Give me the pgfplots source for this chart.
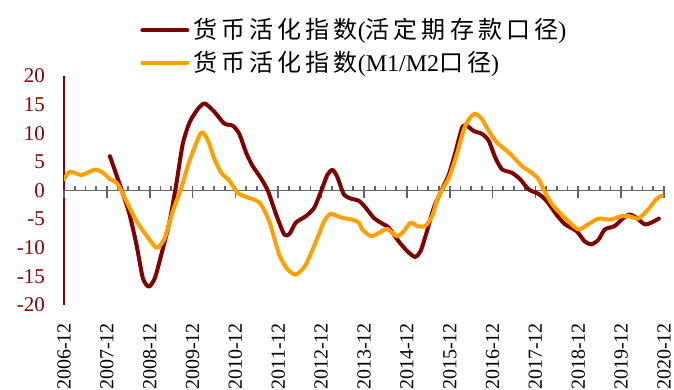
\documentclass[border=0pt]{standalone}
\usepackage{pgfplots}
\pgfplotsset{compat=1.18}
\usepackage{fontspec}
\setmainfont{Liberation Serif}
\newfontfamily\cjk{Noto Sans CJK SC}[LetterSpace=17]

\definecolor{seriesred}{RGB}{128,0,0}
\definecolor{seriesorange}{RGB}{255,160,0}
\definecolor{axisred}{RGB}{139,0,0}
\definecolor{tickgray}{RGB}{100,100,100}

% Deposit-based activation index (years after 2006-12, percent)
\pgfplotstableread{
t v
1.07 6.0
1.22 2.8
1.38 -0.7
1.53 -4.2
1.69 -9.4
1.84 -15.3
1.98 -16.8
2.12 -15.3
2.27 -11.2
2.465 -5.4
2.62 1.1
2.77 8.1
2.93 11.9
3.12 14.2
3.28 15.2
3.49 13.9
3.74 11.7
3.94 11.3
4.09 9.9
4.25 6.6
4.40 4.3
4.60 2.1
4.76 -0.1
4.95 -4.2
5.14 -7.7
5.26 -7.6
5.41 -5.6
5.64 -4.5
5.84 -3.0
6.00 -0.1
6.15 2.8
6.27 3.6
6.38 2.3
6.53 -0.7
6.69 -1.4
6.88 -1.8
7.04 -3.0
7.23 -4.8
7.43 -5.8
7.58 -6.5
7.81 -8.9
8.01 -10.6
8.19 -11.6
8.32 -10.6
8.47 -7.1
8.63 -3.0
8.82 0.2
8.98 2.8
9.13 6.6
9.29 11.0
9.40 11.3
9.56 10.4
9.75 9.9
9.91 8.7
10.06 5.8
10.22 3.7
10.45 3.1
10.64 2.0
10.84 0.2
11.07 -0.6
11.26 -1.8
11.49 -4.2
11.69 -5.9
11.96 -7.1
12.15 -8.9
12.31 -9.4
12.47 -8.6
12.62 -6.8
12.85 -6.2
13.05 -4.8
13.20 -4.2
13.36 -4.8
13.55 -5.9
13.71 -5.6
13.88 -4.9
}\depositdata

% M1/M2-based activation index
\pgfplotstableread{
t v
0 2.0
0.14 3.3
0.41 2.7
0.72 3.65
0.91 3.1
1.07 2.0
1.22 1.4
1.34 -0.1
1.65 -4.8
1.88 -7.4
2.16 -10.0
2.35 -8.3
2.54 -3.6
2.74 0.5
2.93 5.2
3.20 10.1
3.36 8.7
3.51 5.5
3.67 3.1
3.86 1.7
4.05 -0.4
4.24 -1.1
4.56 -2.1
4.79 -5.4
5.02 -11.2
5.22 -13.8
5.41 -14.7
5.64 -13.0
5.88 -8.9
6.07 -5.4
6.22 -4.1
6.50 -4.8
6.73 -5.1
6.88 -5.6
6.96 -6.8
7.16 -8.0
7.35 -7.4
7.54 -6.7
7.77 -8.0
7.93 -7.1
8.09 -5.6
8.24 -6.2
8.43 -6.2
8.59 -4.5
8.74 -1.0
8.98 2.2
9.17 6.4
9.33 10.7
9.48 12.8
9.60 13.4
9.75 12.5
9.91 10.4
10.10 8.4
10.41 6.4
10.68 4.3
10.91 3.1
11.07 2.0
11.23 -0.4
11.42 -2.7
11.69 -4.8
12.00 -6.8
12.23 -5.9
12.47 -4.9
12.74 -5.1
13.00 -4.5
13.20 -4.5
13.40 -4.9
13.63 -3.3
13.82 -1.5
13.95 -0.9
}\monetarydata

\begin{document}
\begin{tikzpicture}
\path[use as bounding box] (0,0) rectangle (337pt,195pt);

% data axis: zero line with quarterly ticks, red value axis on the left
\begin{axis}[
  scale only axis, width=300pt, height=114.5pt,
  at={(32pt,42.5pt)}, anchor=south west,
  xmin=0, xmax=14, ymin=-20, ymax=20,
  axis x line=middle, axis y line=left,
  hide obscured x ticks=false, hide obscured y ticks=false,
  x axis line style={draw=tickgray, line width=0.8pt, -},
  y axis line style={draw=axisred, line width=1.1pt, -},
  xtick={0,...,14}, xticklabels={}, minor x tick num=3,
  tick align=inside, major tick length=2pt, minor tick length=2pt,
  xtick style={draw=tickgray, line width=0.8pt},
  extra x ticks={0,...,14}, extra x tick labels={},
  extra x tick style={tick align=outside, major tick length=3.85pt},
  ytick={-20,-15,...,20}, ytick style={draw=none},
  /pgf/number format/assume math mode=true,
  yticklabel style={text=axisred, font=\fontsize{10.5}{12}\selectfont, xshift=-6pt},
  legend style={at={(0.1267,1.27)}, anchor=north west, draw=none, fill=none,
    inner sep=0pt, row sep=0.5pt, font=\fontsize{12}{14}\selectfont},
  legend cell align=left,
  legend image code/.code={\draw[#1, line width=2pt] (0pt,0pt) -- (22.5pt,0pt);},
  every axis plot/.append style={line width=2pt, line join=round, line cap=round, smooth, tension=0.4},
]
\addplot[seriesred, no marks] table[x=t, y=v] {\depositdata};
\addlegendentry{{\cjk 货币活化指数}({\cjk 活定期存款口径})}
\addplot[seriesorange, no marks] table[x=t, y=v] {\monetarydata};
\addlegendentry{{\cjk 货币活化指数}(M1/M2{\cjk 口径})}
\end{axis}

% year labels along the bottom edge
\begin{axis}[
  scale only axis, width=300pt, height=114.5pt,
  at={(32pt,42.5pt)}, anchor=south west,
  xmin=0, xmax=14, ymin=-20, ymax=20,
  axis x line=bottom, axis y line=none,
  x axis line style={draw=none},
  xtick={0,...,14}, xtick style={draw=none},
  xticklabels={2006-12,2007-12,2008-12,2009-12,2010-12,2011-12,2012-12,2013-12,2014-12,2015-12,2016-12,2017-12,2018-12,2019-12,2020-12},
  xticklabel style={rotate=90, anchor=east, font=\fontsize{10}{12}\selectfont},
  xticklabel shift=3.5pt,
]
\end{axis}
\end{tikzpicture}
\end{document}
